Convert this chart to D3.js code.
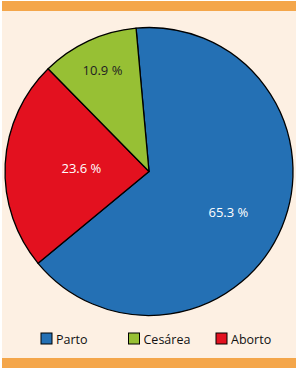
<!DOCTYPE html>
<head>
<meta charset="utf-8">
<style>
    body { margin: 0; background: #fff; }
    svg text { font-family: "Open Sans", sans-serif; }
</style>
<script src="https://d3js.org/d3.v7.min.js"></script>
</head>
<body>
<script>
var categories = ["Parto", "Cesárea", "Aborto"];
var values = [65.3, 10.9, 23.6];
var labels = ["65.3 %", "10.9 %", "23.6 %"];
var colors = ["#2470b4", "#97c034", "#e3111f"];
var labelColors = ["#fff", "#222", "#fff"];
// pie is drawn clockwise Parto -> Aborto -> Cesárea
var drawOrder = [0, 2, 1];

var width = 299, height = 371;
var svg = d3.select("body").append("svg")
    .attr("width", width)
    .attr("height", height);

// panel + orange bars
svg.append("rect").attr("x", 2).attr("y", 1).attr("width", 294).attr("height", 367).attr("fill", "#fdf0e3");
svg.append("rect").attr("x", 2).attr("y", 1).attr("width", 294).attr("height", 10).attr("fill", "#f4a64a");
svg.append("rect").attr("x", 2).attr("y", 358).attr("width", 294).attr("height", 10).attr("fill", "#f4a64a");

var cx = 149, cy = 171.5, r = 144;

var pie = d3.pie()
    .sort(null)
    .value(function(i) { return values[i]; })
    .startAngle(-0.09)
    .endAngle(2 * Math.PI - 0.09);

var arcs = pie(drawOrder);
var arc = d3.arc().innerRadius(0).outerRadius(r);

var g = svg.append("g").attr("transform", "translate(" + cx + "," + cy + ")");

g.selectAll("path")
  .data(arcs)
  .enter().append("path")
    .attr("d", arc)
    .attr("fill", function(d) { return colors[d.data]; })
    .attr("stroke", "#000")
    .attr("stroke-width", 1.3)
    .attr("stroke-linejoin", "round");

// label radius: small slices get pushed outward
g.selectAll("text")
  .data(arcs)
  .enter().append("text")
    .attr("transform", function(d) {
        var lr = values[d.data] < 15 ? 0.77 * r : (values[d.data] < 30 ? 0.47 * r : 0.62 * r);
        var a = (d.startAngle + d.endAngle) / 2;
        if (d.data == 0) a += 0.08;
        return "translate(" + (lr * Math.sin(a)) + "," + (-lr * Math.cos(a)) + ")";
    })
    .attr("dy", "0.35em")
    .attr("text-anchor", "middle")
    .attr("font-size", "13px")
    .attr("fill", function(d) { return labelColors[d.data]; })
    .text(function(d) { return labels[d.data]; });

// legend
var legendX = d3.scalePoint().domain(categories).range([41, 216]);
var lg = svg.append("g").attr("transform", "translate(0,333)");
var item = lg.selectAll("g")
  .data(categories)
  .enter().append("g")
    .attr("transform", function(d) { return "translate(" + legendX(d) + ",0)"; });
item.append("rect")
    .attr("width", 11).attr("height", 11)
    .attr("fill", function(d, i) { return colors[i]; })
    .attr("stroke", "#000").attr("stroke-width", 1);
item.append("text")
    .attr("x", 15).attr("y", 10.5)
    .attr("font-size", "12.5px")
    .attr("fill", "#111")
    .text(function(d) { return d; });
</script>
</body>
